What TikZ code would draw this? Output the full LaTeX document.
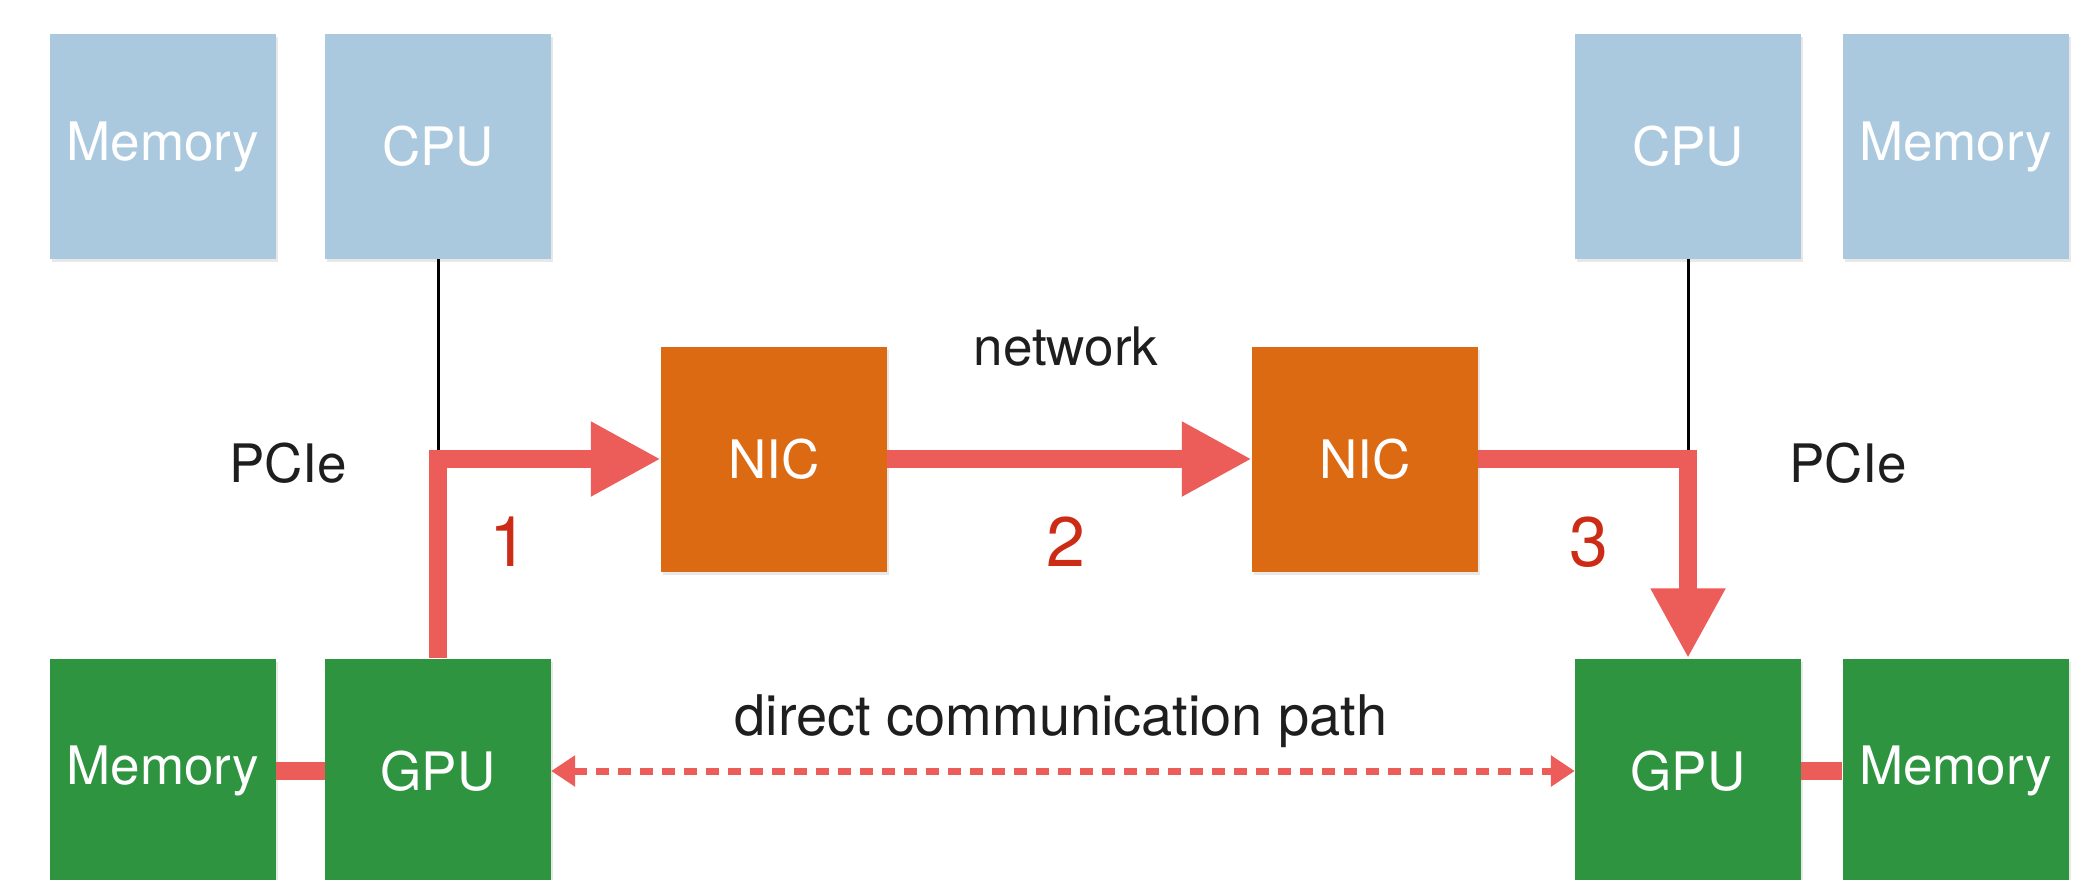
\documentclass[tikz,border=0pt]{standalone}
\usepackage{fontspec}
\setmainfont{TeX Gyre Heros}
\usetikzlibrary{arrows.meta,shadows}
\definecolor{cpublue}{RGB}{170,201,222}
\definecolor{gpugreen}{RGB}{46,148,64}
\definecolor{nicorange}{RGB}{220,106,18}
\definecolor{pathred}{RGB}{236,92,88}
\definecolor{numred}{RGB}{204,44,22}
\definecolor{labelgray}{RGB}{30,30,30}
\begin{document}
\begin{tikzpicture}[x=1pt,y=-1pt,
  unit/.style={minimum width=226pt, minimum height=225pt, inner sep=0pt,
    text=white, font=\fontsize{53}{60}\selectfont,
    drop shadow={shadow xshift=2pt, shadow yshift=-3pt, opacity=0.18}},
  host/.style={unit, fill=cpublue},
  dev/.style={unit, fill=gpugreen},
  nicbox/.style={unit, fill=nicorange},
  label/.style={text=labelgray, font=\fontsize{53}{60}\selectfont},
  stepnum/.style={text=numred, font=\fontsize{70}{80}\selectfont},
  bus/.style={line width=18pt, draw=pathred, line join=miter},
  flow/.style={bus, -{Triangle[length=70pt,width=70pt]}},
  pcie/.style={line width=3pt, draw=black},
  direct/.style={line width=7pt, draw=pathred, dash pattern=on 13pt off 9pt,
    {Triangle[length=24pt,width=30pt]}-{Triangle[length=24pt,width=30pt]}}
]
\fill[white] (0,0) rectangle (2074,880);
\useasboundingbox (0,0) rectangle (2074,880);

% hosts
\node[host] (memTL) at (163,146.5) {Memory};
\node[host] (cpuL)  at (438,146.5) {CPU};
\node[host] (cpuR)  at (1688,146.5) {CPU};
\node[host] (memTR) at (1955.5,146.5) {Memory};

% network cards
\node[nicbox] (nicL) at (774,459) {NIC};
\node[nicbox] (nicR) at (1365,459) {NIC};

% devices
\node[dev] (memBL) at (163,771) {Memory};
\node[dev] (gpuL)  at (438,771) {GPU};
\node[dev] (gpuR)  at (1688,771) {GPU};
\node[dev] (memBR) at (1955.5,771) {Memory};

% PCIe links from the CPUs
\draw[pcie] (cpuL.south) -- (cpuL.south |- nicL.west);
\draw[pcie] (cpuR.south) -- (cpuR.south |- nicR.east);

% data path
\draw[flow] (gpuL.north) -- (gpuL.north |- nicL.west) -- (nicL.west);
\draw[flow] (nicL.east) -- (nicR.west);
\draw[flow] (nicR.east) -- (nicR.east -| gpuR.north) -- (gpuR.north);

% GPU memory links
\draw[bus] (memBL.east) -- (gpuL.west);
\draw[bus] (gpuR.east) -- (memBR.west);

% direct path
\draw[direct] (gpuL.east) -- (gpuR.west);

% labels
\node[label] (pcieL) at (288,463) {PCIe};
\node[label] (pcieR) at (1848,463) {PCIe};
\node[label] (net) at (1066,347) {network};
\node[label, font=\fontsize{56}{64}\selectfont] (dcp) at (1061,721) {direct communication path};
\node[stepnum] (s1) at (509,542) {1};
\node[stepnum] (s2) at (1066,542) {2};
\node[stepnum] (s3) at (1589,542) {3};
\end{tikzpicture}
\end{document}
